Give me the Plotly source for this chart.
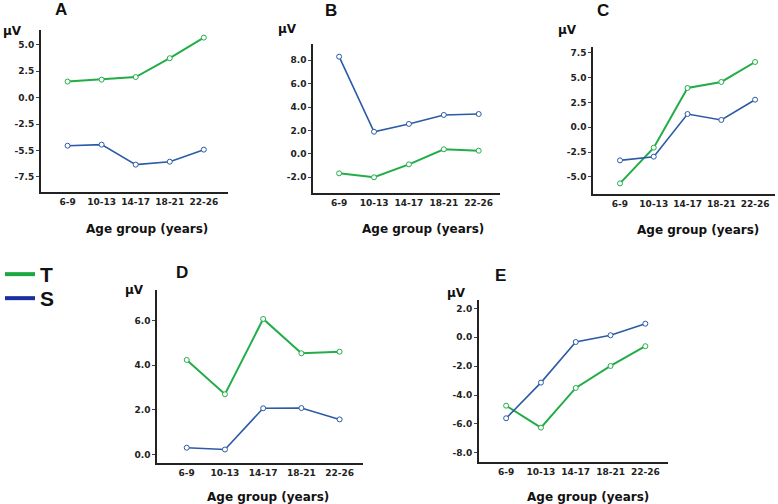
import plotly.graph_objects as go

# ---------- DATA ----------
ages = ["6-9", "10-13", "14-17", "18-21", "22-26"]

t_a = [1.52, 1.70, 1.95, 3.73, 5.68]
s_a = [-4.55, -4.45, -6.34, -6.06, -4.92]

t_b = [-1.68, -2.02, -0.91, 0.38, 0.26]
s_b = [8.31, 1.88, 2.55, 3.32, 3.40]

t_c = [-5.65, -2.05, 3.96, 4.57, 6.58]
s_c = [-3.33, -2.96, 1.34, 0.74, 2.78]

t_d = [4.24, 2.70, 6.08, 4.54, 4.61]
s_d = [0.30, 0.22, 2.07, 2.08, 1.57]

t_e = [-4.74, -6.26, -3.51, -1.99, -0.62]
s_e = [-5.61, -3.14, -0.33, 0.14, 0.94]

tick_a = [5, 2.5, 0, -2.5, -5, -7.5]
text_a = ["5.0", "2.5", "0.0", "-2.5", "-5.5", "-7.5"]
tick_b = [8, 6, 4, 2, 0, -2]
text_b = ["8.0", "6.0", "4.0", "2.0", "0.0", "-2.0"]
tick_c = [7.5, 5, 2.5, 0, -2.5, -5]
text_c = ["7.5", "5.0", "2.5", "0.0", "-2.5", "-5.0"]
tick_d = [6, 4, 2, 0]
text_d = ["6.0", "4.0", "2.0", "0.0"]
tick_e = [2, 0, -2, -4, -6, -8]
text_e = ["2.0", "0.0", "-2.0", "-4.0", "-6.0", "-8.0"]

GREEN = "#22ad48"
BLUE = "#2b5aa6"
W, H = 778, 504

# box (left, right, top, bottom) px, y range, x range,
# letter offset (dx from left, dy from top), µV offset, x-title offset
panels = [
    ("A", t_a, s_a, tick_a, text_a, (41, 228, 30, 191.7), (-8.9, 6.4), (-0.78, 4.71),
     (12, -21), (-29, 1), (12, 37)),
    ("B", t_b, s_b, tick_b, text_b, (313.3, 500, 44.3, 193.3), (-3.39, 9.37), (-0.74, 4.61),
     (10, -34), (-26, -15), (16, 36)),
    ("C", t_c, s_c, tick_c, text_c, (593.3, 775, 46.7, 194), (-6.72, 8.12), (-0.79, 4.59),
     (2, -36), (-26, -17), (14, 36)),
    ("D", t_d, s_d, tick_d, text_d, (157.3, 363.3, 290, 463.3), (-0.40, 7.38), (-0.77, 4.62),
     (17, -18), (-23, 0), (8, 34)),
    ("E", t_e, s_e, tick_e, text_e, (479, 668.3, 300, 462), (-8.64, 2.58), (-0.78, 4.66),
     (14, -25), (-23, -7), (14, 35)),
]

fig = go.Figure()
annotations = []
tickfont = dict(family="DejaVu Sans", size=9, color="#222", weight="bold")

for i, (name, t, s, tv, tt, box, yr, xr, let, mu, xt) in enumerate(panels):
    k = "" if i == 0 else str(i + 1)
    l, r, top, bot = box
    for vals, col, w in [(t, GREEN, 2), (s, BLUE, 1.6)]:
        fig.add_trace(go.Scatter(
            x=ages, y=vals, mode="lines+markers",
            line=dict(color=col, width=w),
            marker=dict(symbol="circle", size=5, color="white",
                        line=dict(color=col, width=1)),
            xaxis="x" + k, yaxis="y" + k, showlegend=False,
        ))
    fig.layout["xaxis" + k] = dict(
        domain=[l / W, r / W], anchor="y" + k, type="category",
        range=list(xr), showline=True, linecolor="#222", linewidth=2,
        showgrid=False, zeroline=False, ticks="", automargin=False,
        tickfont=tickfont,
    )
    fig.layout["yaxis" + k] = dict(
        domain=[1 - bot / H, 1 - top / H], anchor="x" + k,
        range=list(yr), showline=True, linecolor="#222", linewidth=2,
        showgrid=False, zeroline=False, ticks="outside", ticklen=3,
        tickcolor="#444", tickvals=tv, ticktext=tt, automargin=False,
        tickfont=tickfont,
    )
    # panel letter
    annotations.append(dict(
        text=name, x=(l + let[0]) / W, y=1 - (top + let[1]) / H,
        xanchor="left", yanchor="middle",
        font=dict(family="Liberation Sans", size=17, color="#111", weight="bold"),
    ))
    # unit label
    annotations.append(dict(
        text="µV", x=(l + mu[0]) / W, y=1 - (top + mu[1]) / H,
        xanchor="center", yanchor="middle",
        font=dict(family="DejaVu Sans", size=12, color="#111", weight="bold"),
    ))
    # x axis title
    annotations.append(dict(
        text="Age group (years)", x=((l + r) / 2 + xt[0]) / W, y=1 - (bot + xt[1]) / H,
        xanchor="center", yanchor="middle",
        font=dict(family="DejaVu Sans", size=12, color="#111", weight="bold"),
    ))

for a in annotations:
    a.update(xref="paper", yref="paper", showarrow=False)

# legend-only traces, one per legend box
fig.add_trace(go.Scatter(x=[None], y=[None], mode="lines", name="T",
                         line=dict(color="#1aa83f", width=4), legend="legend"))
fig.add_trace(go.Scatter(x=[None], y=[None], mode="lines", name="S",
                         line=dict(color="#1a2fa0", width=4), legend="legend2"))

legfont = dict(family="Liberation Sans", size=21, color="#111", weight="bold")
fig.update_layout(
    template="none",
    width=W, height=H,
    margin=dict(l=0, r=0, t=0, b=0),
    paper_bgcolor="white", plot_bgcolor="white",
    annotations=annotations,
    showlegend=True,
    legend=dict(x=0, y=1 - 254 / H, xanchor="left", yanchor="top",
                font=legfont, bgcolor="rgba(0,0,0,0)"),
    legend2=dict(x=0, y=1 - 278 / H, xanchor="left", yanchor="top",
                 font=legfont, bgcolor="rgba(0,0,0,0)"),
)

fig.write_html("out.html", config={"displayModeBar": False},
               post_script="document.body.style.margin='0';")
